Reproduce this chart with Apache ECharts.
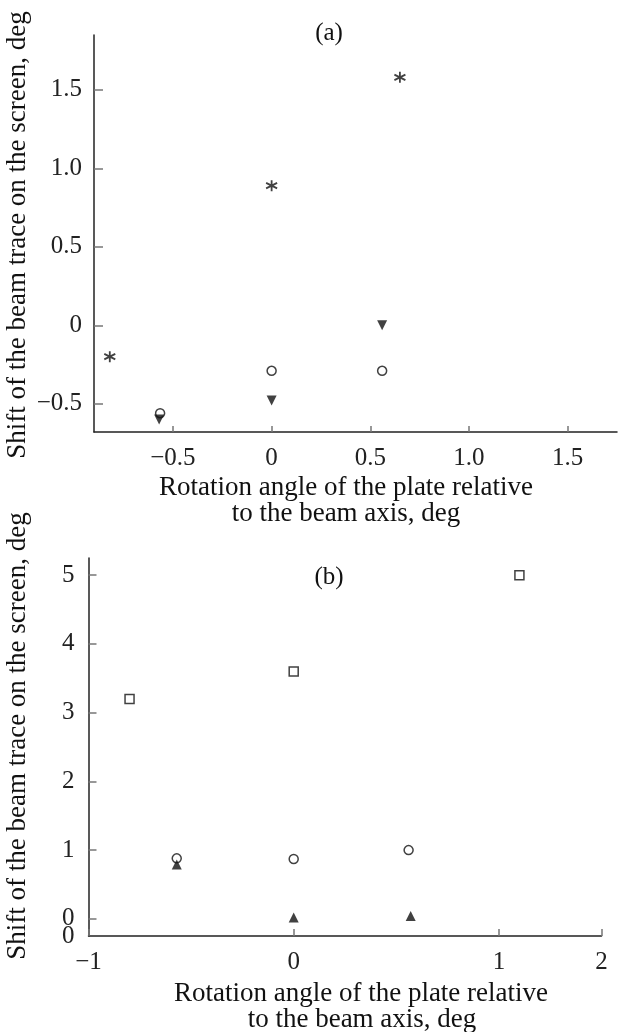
<!DOCTYPE html>
<html>
<head>
<meta charset="utf-8">
<script src="https://cdn.jsdelivr.net/npm/echarts@6/dist/echarts.min.js"></script>
<style>
html,body{margin:0;padding:0;background:#fff;}
#chart{width:620px;height:1032px;}
</style>
</head>
<body>
<div id="chart"></div>
<script>
// ---------- Data: panel (a) ----------
const xTicksA = [-0.5, 0, 0.5, 1.0, 1.5];
const xTickLabelsA = ['\u22120.5', '0', '0.5', '1.0', '1.5'];
const yTicksA = [-0.5, 0, 0.5, 1.0, 1.5];
const yTickLabelsA = ['\u22120.5', '0', '0.5', '1.0', '1.5'];

const starAX = [-0.82, 0, 0.65];
const starAY = [-0.2, 0.89, 1.58];
const circAX = [-0.565, 0, 0.56];
const circAY = [-0.56, -0.29, -0.29];
const triAX = [-0.57, 0, 0.56];
const triAY = [-0.6, -0.48, 0.0];

// ---------- Data: panel (b) ----------
const xTicksB = [-1, 0, 1, 1.5];
const xTickLabelsB = ['\u22121', '0', '1', '2'];
const yTicksB = [0, 1, 2, 3, 4, 5];
const yTickLabelsB = ['0', '0', '1', '2', '3', '4', '5'].slice(1);
const yExtraValsB = [-0.25];
const yExtraLabelsB = ['0'];

const sqBX = [-0.8, 0, 1.1];
const sqBY = [3.2, 3.6, 5.0];
const circBX = [-0.57, 0, 0.56];
const circBY = [0.88, 0.87, 1.0];
const triBX = [-0.57, 0, 0.57];
const triBY = [0.79, 0.02, 0.04];

// ---------- Text ----------
const yTitle = 'Shift of the beam trace on the screen, deg';
const xTitle1 = 'Rotation angle of the plate relative';
const xTitle2 = 'to the beam axis, deg';
const panelA = '(a)';
const panelB = '(b)';

const FONT = '"Liberation Serif", "Times New Roman", serif';
const INK = '#111';

function zip(xs, ys) { return xs.map((x, i) => [x, ys[i]]); }
function lookup(vals, labels) {
  return function (v) {
    const i = vals.findIndex(t => Math.abs(t - v) < 1e-9);
    return i >= 0 ? labels[i] : '';
  };
}
function axisCommon(tickVals, labelVals, labels, len, margin) {
  return {
    type: 'value',
    axisLine: { show: true, onZero: false, lineStyle: { color: '#222', width: 1.5 } },
    axisTick: { show: true, inside: true, length: len, customValues: tickVals,
      lineStyle: { color: '#777', width: 1.5 } },
    axisLabel: { customValues: labelVals, formatter: lookup(labelVals, labels),
      fontFamily: FONT, fontSize: 25, color: '#222', margin: margin,
      hideOverlap: false, showMinLabel: true, showMaxLabel: true },
    splitLine: { show: false }
  };
}

const chart = echarts.init(document.getElementById('chart'), null, { renderer: 'canvas' });

const starPath = 'path://M5,0L5,10M0.67,2.5L9.33,7.5M0.67,7.5L9.33,2.5';

const extraAxisB = axisCommon([], yExtraValsB, yExtraLabelsB, 8, 14);
extraAxisB.axisLine = { show: false };
extraAxisB.axisTick = { show: false };
Object.assign(extraAxisB, { gridIndex: 1, min: -0.25, max: 5.25, position: 'left', offset: 0 });

const option = {
  backgroundColor: '#fff',
  animation: false,
  grid: [
    { left: 94, top: 35, width: 523, height: 397 },
    { left: 88.5, top: 558, width: 513, height: 378 }
  ],
  xAxis: [
    Object.assign(axisCommon(xTicksA, xTicksA, xTickLabelsA, 6, 14), { gridIndex: 0, min: -0.9, max: 1.75 }),
    Object.assign(axisCommon(xTicksB, xTicksB, xTickLabelsB, 7, 14), { gridIndex: 1, min: -1, max: 1.5 })
  ],
  yAxis: [
    Object.assign(axisCommon(yTicksA, yTicksA, yTickLabelsA, 9, 12), { gridIndex: 0, min: -0.68, max: 1.85 }),
    Object.assign(axisCommon(yTicksB, yTicksB, yTickLabelsB, 8, 14), { gridIndex: 1, min: -0.25, max: 5.25, position: 'left', offset: 0 }),
    extraAxisB
  ],
  series: [
    { type: 'scatter', xAxisIndex: 0, yAxisIndex: 0, data: zip(starAX, starAY),
      symbol: starPath, symbolSize: 11,
      itemStyle: { color: 'rgba(0,0,0,0)', borderColor: INK, borderWidth: 1.8 } },
    { type: 'scatter', xAxisIndex: 0, yAxisIndex: 0, data: zip(circAX, circAY),
      symbol: 'circle', symbolSize: 9,
      itemStyle: { color: 'rgba(0,0,0,0)', borderColor: INK, borderWidth: 1.5 } },
    { type: 'scatter', xAxisIndex: 0, yAxisIndex: 0, data: zip(triAX, triAY),
      symbol: 'triangle', symbolRotate: 180, symbolSize: 10,
      itemStyle: { color: INK } },
    { type: 'scatter', xAxisIndex: 1, yAxisIndex: 1, data: zip(sqBX, sqBY),
      symbol: 'rect', symbolSize: 9,
      itemStyle: { color: 'rgba(0,0,0,0)', borderColor: INK, borderWidth: 1.5 } },
    { type: 'scatter', xAxisIndex: 1, yAxisIndex: 1, data: zip(circBX, circBY),
      symbol: 'circle', symbolSize: 9,
      itemStyle: { color: 'rgba(0,0,0,0)', borderColor: INK, borderWidth: 1.5 } },
    { type: 'scatter', xAxisIndex: 1, yAxisIndex: 1, data: zip(triBX, triBY),
      symbol: 'triangle', symbolSize: 10,
      itemStyle: { color: INK } }
  ],
  graphic: [
    { type: 'text', x: 18, y: 235, rotation: Math.PI / 2,
      style: { text: yTitle, font: '27px ' + FONT, fill: INK, align: 'center', verticalAlign: 'middle' } },
    { type: 'text', x: 18, y: 736, rotation: Math.PI / 2,
      style: { text: yTitle, font: '27px ' + FONT, fill: INK, align: 'center', verticalAlign: 'middle' } },
    { type: 'text', x: 346, y: 488,
      style: { text: xTitle1, font: '27px ' + FONT, fill: INK, align: 'center', verticalAlign: 'middle' } },
    { type: 'text', x: 346, y: 514,
      style: { text: xTitle2, font: '27px ' + FONT, fill: INK, align: 'center', verticalAlign: 'middle' } },
    { type: 'text', x: 361, y: 994,
      style: { text: xTitle1, font: '27px ' + FONT, fill: INK, align: 'center', verticalAlign: 'middle' } },
    { type: 'text', x: 362, y: 1020,
      style: { text: xTitle2, font: '27px ' + FONT, fill: INK, align: 'center', verticalAlign: 'middle' } },
    { type: 'text', x: 329, y: 33,
      style: { text: panelA, font: '25px ' + FONT, fill: INK, align: 'center', verticalAlign: 'middle' } },
    { type: 'text', x: 329, y: 577,
      style: { text: panelB, font: '25px ' + FONT, fill: INK, align: 'center', verticalAlign: 'middle' } }
  ]
};
chart.setOption(option);
</script>
</body>
</html>
